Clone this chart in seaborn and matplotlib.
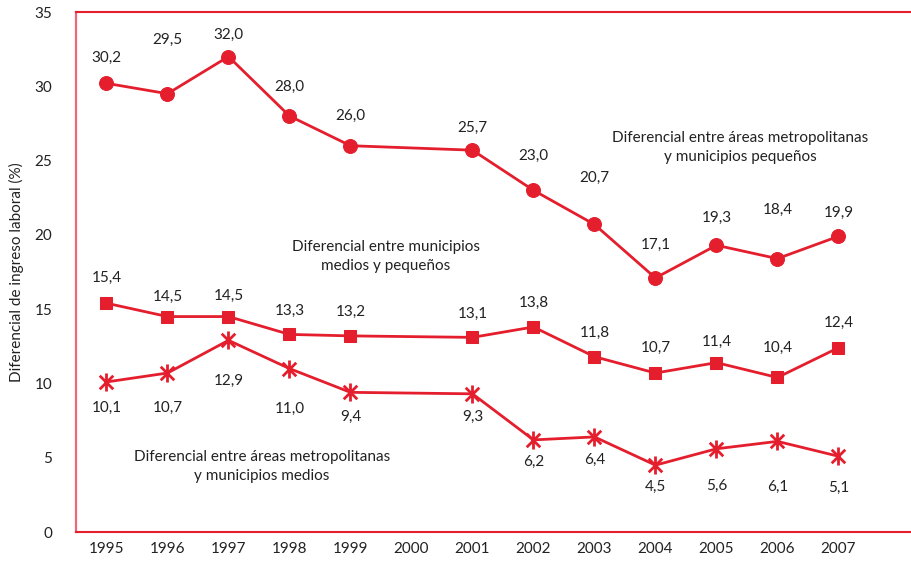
import matplotlib
matplotlib.use("Agg")
import matplotlib.pyplot as plt
from matplotlib.path import Path
import seaborn as sns
import pandas as pd
import numpy as np

# ---- data ----
years = ["1995", "1996", "1997", "1998", "1999", "2000", "2001", "2002",
         "2003", "2004", "2005", "2006", "2007"]
data_years = ["1995", "1996", "1997", "1998", "1999", "2001", "2002",
              "2003", "2004", "2005", "2006", "2007"]
metro_pequenos = [30.2, 29.5, 32.0, 28.0, 26.0, 25.7, 23.0, 20.7, 17.1, 19.3, 18.4, 19.9]
medios_pequenos = [15.4, 14.5, 14.5, 13.3, 13.2, 13.1, 13.8, 11.8, 10.7, 11.4, 10.4, 12.4]
metro_medios = [10.1, 10.7, 12.9, 11.0, 9.4, 9.3, 6.2, 6.4, 4.5, 5.6, 6.1, 5.1]
y_ticks = [0, 5, 10, 15, 20, 25, 30, 35]

# label offsets in pixels (layout)
off_circ = [25, 54, 22, 29, 30, 22, 34, 47, 33, 27, 49, 23]
off_sq = [25, 20, 21, 24, 24, 23, 24, 24, 25, 21, 30, 25]
off_star = [-26, -35, -41, -40, -25, -23, -22, -23, -22, -37, -46, -32]

RED = "#E41E2D"
PINK = "#EE6677"

sns.set_style("white")
plt.rcParams["font.family"] = ["Lato", "DejaVu Sans"]

pos = {y: i for i, y in enumerate(years)}
df = pd.DataFrame({
    "x": [pos[y] for y in data_years] * 3,
    "v": metro_pequenos + medios_pequenos + metro_medios,
    "serie": ["mp"] * 12 + ["mep"] * 12 + ["mm"] * 12,
})

fig = plt.figure(figsize=(9.11, 5.62), dpi=100)
ax = fig.add_axes([76 / 911, 30 / 562, (911 - 76) / 911, (532 - 12) / 562])

star = Path([(0, -1), (0, 1), (-0.75, -0.75), (0.75, 0.75), (-0.75, 0.75), (0.75, -0.75)],
            [Path.MOVETO, Path.LINETO, Path.MOVETO, Path.LINETO, Path.MOVETO, Path.LINETO])

sns.lineplot(data=df[df.serie == "mp"], x="x", y="v", ax=ax, color=RED, lw=2.0,
             marker="o", markersize=10, markeredgecolor=RED, markerfacecolor=RED)
sns.lineplot(data=df[df.serie == "mep"], x="x", y="v", ax=ax, color=RED, lw=2.0,
             marker="s", markersize=8.5, markeredgecolor=RED, markerfacecolor=RED)
sns.lineplot(data=df[df.serie == "mm"], x="x", y="v", ax=ax, color=RED, lw=2.0,
             marker=star, markersize=13, markeredgecolor=RED, markeredgewidth=2.0)

fs = 11
for vals, offs in [(metro_pequenos, off_circ), (medios_pequenos, off_sq), (metro_medios, off_star)]:
    for y, v, o in zip(data_years, vals, offs):
        ax.annotate(f"{v:.1f}".replace(".", ","), (pos[y], v), xytext=(0, o),
                    textcoords="offset pixels", ha="center", va="center",
                    fontsize=fs, color="#222222")

ax.set_xlim(-0.5, 13.19)
ax.set_ylim(0, 35)
ax.set_xticks(range(len(years)))
ax.set_xticklabels(years)
ax.set_xticks(np.arange(-0.5, 12.6, 1.0), minor=True)
ax.set_yticks(y_ticks)
ax.set_yticks([0, 4.58, 9.15, 13.73, 18.3, 22.88, 35], minor=True)
ax.tick_params(axis="x", which="major", length=0, pad=7, labelsize=fs, labelcolor="#222222")
ax.tick_params(axis="y", which="major", length=0, pad=17, labelsize=fs, labelcolor="#222222")
ax.tick_params(axis="x", which="minor", length=7, width=1.3, color=PINK, direction="out")
ax.tick_params(axis="y", which="minor", length=7, width=1.3, color=PINK, direction="out")
ax.set_xlabel("")
ax.set_ylabel("Diferencial de ingreso laboral (%)", fontsize=fs, color="#222222", labelpad=8)

ax.spines["left"].set_color(PINK)
ax.spines["left"].set_linewidth(1.6)
for s in ["top", "bottom"]:
    ax.spines[s].set_color(RED)
    ax.spines[s].set_linewidth(1.5)
ax.spines["right"].set_visible(False)

ax.text(10.39, 25.9, "Diferencial entre áreas metropolitanas\ny municipios pequeños",
        ha="center", va="center", fontsize=fs, color="#222222", linespacing=1.45)
ax.text(4.58, 18.54, "Diferencial entre municipios\nmedios y pequeños",
        ha="center", va="center", fontsize=fs, color="#222222", linespacing=1.45)
ax.text(2.55, 4.41, "Diferencial entre áreas metropolitanas\ny municipios medios",
        ha="center", va="center", fontsize=fs, color="#222222", linespacing=1.45)

fig.savefig("out.png", dpi=100)
